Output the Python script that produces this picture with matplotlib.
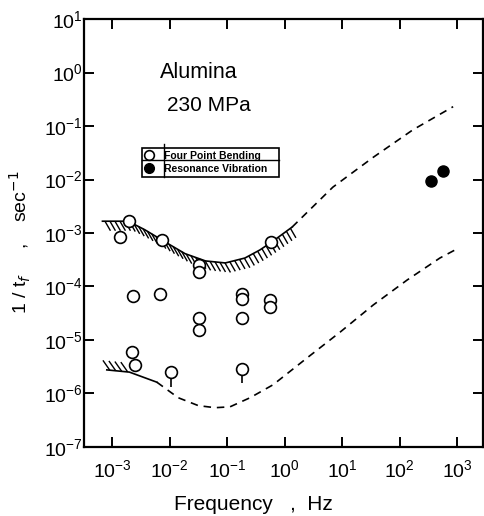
import numpy as np
import matplotlib.pyplot as plt
from matplotlib.lines import Line2D
from matplotlib.collections import LineCollection
from matplotlib.transforms import IdentityTransform

plt.rcParams['font.family'] = ['Liberation Sans', 'DejaVu Sans']

# open circles : four point bending
bend_f = [1.38e-3, 2.0e-3, 7.4e-3, 0.032, 0.032, 0.59,
          2.3e-3, 6.8e-3, 0.032, 0.032, 0.18, 0.18, 0.18, 0.56, 0.56,
          2.2e-3, 2.5e-3]
bend_r = [8.5e-4, 1.65e-3, 7.4e-4, 2.5e-4, 1.9e-4, 6.8e-4,
          6.6e-5, 7.2e-5, 2.6e-5, 1.5e-5, 7.2e-5, 5.8e-5, 2.6e-5, 5.6e-5, 4.2e-5,
          6.0e-6, 3.4e-6]
# run-out points (circle with tail)
runout_f = [0.0107, 0.18]
runout_r = [2.5e-6, 2.9e-6]

# filled circles : resonance vibration
reso_f = [355, 575]
reso_r = [9.3e-3, 1.45e-2]

# upper curve, solid part (hatched) then dashed part
up_solid_f = [6.8e-4, 1.9e-3, 3.7e-3, 7.8e-3, 0.0186, 0.042, 0.093, 0.204, 0.37, 0.60, 1.35]
up_solid_r = [1.66e-3, 1.66e-3, 1.15e-3, 7.1e-4, 4.1e-4, 3.0e-4, 2.75e-4, 3.4e-4, 4.8e-4, 6.8e-4, 1.29e-3]
up_dash_f = [1.35, 6.9, 34.7, 170, 850]
up_dash_r = [1.29e-3, 7.2e-3, 2.6e-2, 8.5e-2, 0.23]

# lower curve
lo_solid_f = [8.1e-4, 2.0e-3, 6.0e-3]
lo_solid_r = [2.75e-6, 2.5e-6, 1.62e-6]
lo_dash_f = [6.0e-3, 0.0141, 0.0316, 0.0617, 0.112, 0.251, 0.63, 2.45, 9.3, 34.7, 135, 500, 1050]
lo_dash_r = [1.62e-6, 8.3e-7, 5.9e-7, 5.4e-7, 5.6e-7, 8.3e-7, 1.45e-6, 4.6e-6, 1.41e-5, 4.5e-5, 1.32e-4, 3.4e-4, 5.2e-4]


def hatch(ax, xs, ys, angle, spacing, length):
    # short strokes along a curve, drawn in pixel space
    pts = ax.transData.transform(np.column_stack([xs, ys]))
    d = np.hypot(*np.diff(pts, axis=0).T)
    s = np.concatenate([[0], np.cumsum(d)])
    si = np.arange(spacing / 2, s[-1], spacing)
    px = np.interp(si, s, pts[:, 0])
    py = np.interp(si, s, pts[:, 1])
    a = np.radians(angle)
    segs = [[(x, y), (x + length * np.cos(a), y + length * np.sin(a))] for x, y in zip(px, py)]
    ax.add_collection(LineCollection(segs, colors='black', linewidths=1.0,
                                     transform=IdentityTransform()))


fig = plt.figure(figsize=(4.85, 5.16), dpi=100)
ax = fig.add_axes([0.173, 0.134, 0.823, 0.829])

ax.set_xscale('log')
ax.set_yscale('log')
ax.set_xlim(10**-3.49, 10**3.45)
ax.set_ylim(1e-7, 1e1)

# curves
ax.plot(up_solid_f, up_solid_r, color='black', lw=1.2)
ax.plot(up_dash_f, up_dash_r, color='black', lw=1.2, dashes=(4.5, 3.5))
ax.plot(lo_solid_f, lo_solid_r, color='black', lw=1.2)
ax.plot(lo_dash_f, lo_dash_r, color='black', lw=1.2, dashes=(4.5, 3.5))
hatch(ax, up_solid_f, up_solid_r, -60, 5, 11)
hatch(ax, lo_solid_f[:2], lo_solid_r[:2], 125, 6, 12)

# tails of run-out points
ax.vlines(runout_f, [r * 10**-0.27 for r in runout_r], runout_r, color='black', lw=1.2, zorder=3)

ax.plot(bend_f + runout_f, bend_r + runout_r, 'o', ms=8.5, mfc='white', mec='black', mew=1.2,
        linestyle='none', zorder=4)
ax.plot(reso_f, reso_r, 'o', ms=8, color='black', linestyle='none', zorder=4)

# legend
handles = [Line2D([], [], marker='o', ms=7, mfc='white', mec='black', mew=1.2, ls='none'),
           Line2D([], [], marker='o', ms=7, color='black', ls='none')]
leg = ax.legend(handles, ['Four Point Bending', 'Resonance Vibration'],
                loc='lower left', bbox_to_anchor=(0.145, 0.631, 0.344, 0.077), mode='expand',
                fancybox=False, framealpha=1, edgecolor='black', borderpad=0.3,
                handlelength=0.8, handletextpad=1.0, labelspacing=0.3, borderaxespad=0,
                prop={'size': 7.5, 'weight': 'bold'})
leg.get_frame().set_linewidth(1.2)
ax.plot([0.2005, 0.2005], [0.631, 0.708], color='black', lw=1.0, transform=ax.transAxes, zorder=6)
ax.plot([0.145, 0.489], [0.6706, 0.6706], color='black', lw=1.0, transform=ax.transAxes, zorder=6)

ax.text(0.288, 0.874, 'Alumina', transform=ax.transAxes, fontsize=15.5, ha='center', va='center')
ax.text(0.313, 0.797, '230 MPa', transform=ax.transAxes, fontsize=15, ha='center', va='center')

ax.set_xticks([1e-3, 1e-2, 1e-1, 1e0, 1e1, 1e2, 1e3])
ax.set_yticks([1e-7, 1e-6, 1e-5, 1e-4, 1e-3, 1e-2, 1e-1, 1e0, 1e1])
ax.minorticks_off()
ax.tick_params(which='major', direction='in', length=7.5, width=1.4,
               top=True, right=True, labelsize=14)
ax.tick_params(axis='x', pad=9)
ax.tick_params(axis='y', pad=1)
for s in ax.spines.values():
    s.set_linewidth(1.6)

ax.set_xlabel('Frequency   ,  Hz', fontsize=15)
ax.xaxis.set_label_coords(0.424, -0.112)
ax.set_ylabel('1 / t$_f$     ,    sec$^{-1}$', fontsize=14)
ax.yaxis.set_label_coords(-0.128, 0.479)

fig.savefig('out.png', dpi=100)
